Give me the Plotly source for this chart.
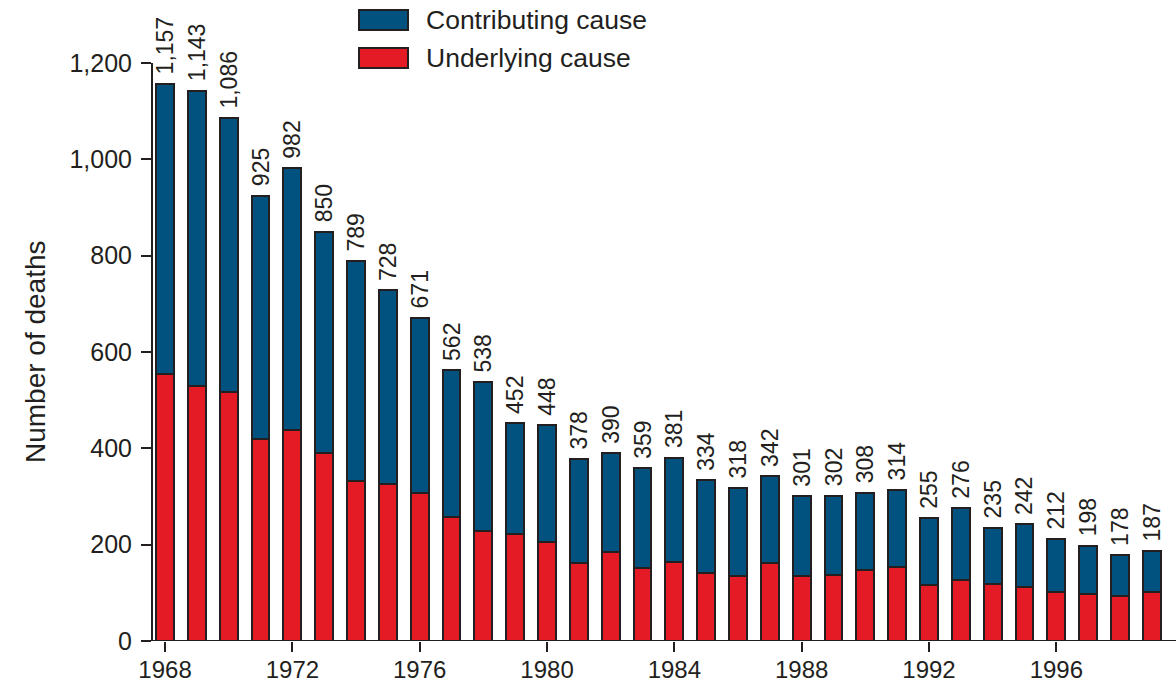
import plotly.graph_objects as go

years = list(range(1968, 2000))
totals = [1157, 1143, 1086, 925, 982, 850, 789, 728, 671, 562, 538, 452, 448, 378, 390, 359,
          381, 334, 318, 342, 301, 302, 308, 314, 255, 276, 235, 242, 212, 198, 178, 187]
underlying = [554, 530, 518, 420, 439, 390, 333, 327, 308, 257, 229, 222, 206, 163, 184, 151,
              165, 142, 136, 162, 136, 138, 148, 153, 116, 126, 118, 113, 101, 98, 93, 102]
contributing = [t - u for t, u in zip(totals, underlying)]
total_labels = ["\u00a0" + f"{t:,}" for t in totals]
x_ticks = [1968, 1972, 1976, 1980, 1984, 1988, 1992, 1996]
y_ticks = [0, 200, 400, 600, 800, 1000, 1200]

BLUE = "#02527f"
RED = "#e41b24"
INK = "#231f20"
FONT = "Liberation Sans, Arial, sans-serif"

fig = go.Figure()
fig.add_bar(x=years, y=underlying, name="Underlying cause", width=0.56,
            marker=dict(color=RED, line=dict(color=INK, width=2)))
fig.add_bar(x=years, y=contributing, name="Contributing cause", width=0.56,
            marker=dict(color=BLUE, line=dict(color=INK, width=2)),
            text=total_labels, textposition="outside", textangle=-90,
            constraintext="none", cliponaxis=False,
            outsidetextfont=dict(size=23, color=INK, family=FONT))

# axis lines
fig.add_shape(type="line", xref="paper", yref="y", x0=0, x1=0, y0=0, y1=1200,
              line=dict(color=INK, width=2))
fig.add_shape(type="line", xref="paper", yref="y", x0=0, x1=1, y0=0, y1=0,
              line=dict(color=INK, width=2))

# y-axis title centred on the 0-1200 axis line
fig.add_annotation(text="Number of deaths", xref="paper", yref="y",
                   x=-(152 - 35) / 1024, y=600, textangle=-90,
                   xanchor="center", yanchor="middle", showarrow=False,
                   font=dict(size=28, color=INK, family=FONT))

# legend (manual)
legend_items = [("Contributing cause", BLUE), ("Underlying cause", RED)]
for i, (name, col) in enumerate(legend_items):
    yc = 20 + i * 38
    fig.add_shape(type="rect", xref="paper", yref="paper",
                  x0=(359 - 152) / 1024, x1=(408 - 152) / 1024,
                  y0=1 - (yc + 10) / 641, y1=1 - (yc - 10) / 641,
                  line=dict(color=INK, width=2), fillcolor=col)
    fig.add_annotation(text=name, xref="paper", yref="paper",
                       x=(424 - 152) / 1024, y=1 - yc / 641,
                       xanchor="left", yanchor="middle", showarrow=False,
                       font=dict(size=26.5, color=INK, family=FONT))

fig.update_layout(
    width=1176, height=682,
    margin=dict(l=152, r=0, t=0, b=41),
    barmode="stack",
    bargap=0.43,
    showlegend=False,
    plot_bgcolor="white", paper_bgcolor="white",
    font=dict(family=FONT, color=INK, size=25),
    xaxis=dict(range=[1967.59, 1999.76], tickmode="array", tickvals=x_ticks,
               ticks="outside", ticklen=10, tickwidth=2, tickcolor=INK,
               ticklabelstandoff=-3,
               showgrid=False, zeroline=False, showline=False, automargin=False,
               tickfont=dict(size=24, family=FONT, color=INK)),
    yaxis=dict(range=[0, 1331], tickmode="array", tickvals=y_ticks, tickformat=",",
               ticks="outside", ticklen=10, tickwidth=2, tickcolor=INK,
               ticklabelstandoff=4,
               showgrid=False, zeroline=False, showline=False, automargin=False,
               tickfont=dict(size=25, family=FONT, color=INK)),
)

fig.write_html("out.html", config={"displayModeBar": False},
               post_script="document.body.style.margin='0';document.body.style.padding='0';")
